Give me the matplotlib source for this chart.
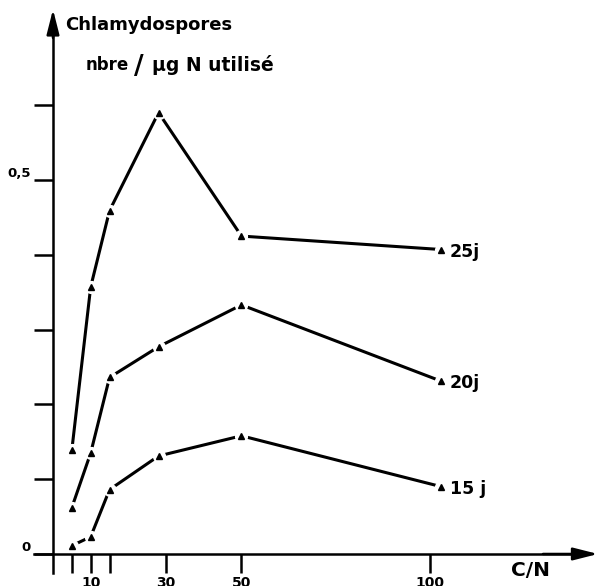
import matplotlib.pyplot as plt

# C/N ratio of the medium, and chlamydospores per ug N used, after 15, 20 and 25 days
cn = [5, 10, 15, 28, 50, 103]
j15 = [0.011, 0.023, 0.086, 0.131, 0.158, 0.090]
j20 = [0.062, 0.135, 0.236, 0.277, 0.333, 0.231]
j25 = [0.139, 0.357, 0.459, 0.590, 0.425, 0.407]
series = [("15 j", j15), ("20j", j20), ("25j", j25)]

xticks = [5, 10, 15, 30, 50, 100]
xlabels = ["", "10", "", "30", "50", "100"]
yticks = [0, 0.1, 0.2, 0.3, 0.4, 0.5, 0.6]
ylabels = ["0", "", "", "", "", "0,5", ""]

plt.rcParams['font.family'] = ['DejaVu Sans']
plt.rcParams['font.weight'] = 'bold'

fig = plt.figure(figsize=(5.98, 5.86), dpi=100)
ax = fig.add_axes([0, 0, 1, 1])
ax.set_xlim(-14.06, 144.6)
ax.set_ylim(-0.0428, 0.7406)

# axes drawn through the origin, hand-drawn style
for side in ['top', 'right']:
    ax.spines[side].set_visible(False)
ax.spines['left'].set_position(('data', 0))
ax.spines['bottom'].set_position(('data', 0))
ax.spines['left'].set_bounds(-0.025, 0.71)
ax.spines['bottom'].set_bounds(-5, 138)
for side in ['left', 'bottom']:
    ax.spines[side].set_linewidth(1.8)

ax.set_xticks(xticks)
ax.set_xticklabels(xlabels, fontsize=10, fontweight='bold')
ax.set_yticks(yticks)
ax.set_yticklabels(ylabels, fontsize=9.5, fontweight='bold')
ax.tick_params(axis='both', direction='out', length=14, width=1.8)
ax.tick_params(axis='x', pad=2)
ax.tick_params(axis='y', pad=2)
plt.setp(ax.get_yticklabels(), va='bottom')

# arrow heads on both axes
arrow = dict(arrowstyle='-|>,head_length=1.5,head_width=0.38', color='k',
             lw=1.8, mutation_scale=10, shrinkA=0, shrinkB=0)
ax.annotate('', xy=(144.6, 0), xytext=(130, 0), arrowprops=arrow)
ax.annotate('', xy=(0, 0.728), xytext=(0, 0.69), arrowprops=arrow)

for name, vals in series:
    ax.plot(cn, vals, color='k', lw=2.2, zorder=2, solid_capstyle='butt')
    ax.plot(cn, vals, 'o', color='white', ms=8.5, zorder=3)
    ax.plot(cn, vals, '^', color='k', ms=5, zorder=4)
    ax.annotate(name, xy=(cn[-1], vals[-1]), xytext=(6, 0),
                textcoords='offset points', va='center_baseline',
                fontsize=12.5, fontweight='bold')

ax.text(0.1087, 0.957, "Chlamydospores", transform=ax.transAxes,
        va='center', fontsize=13, fontweight='bold')
ax.text(0.1438, 0.889, "nbre", transform=ax.transAxes,
        va='center', fontsize=12, fontweight='bold')
ax.text(0.2316, 0.886, "/", transform=ax.transAxes, ha='center',
        va='center', fontsize=19, fontweight='bold')
ax.text(0.254, 0.889, "µg N utilisé", transform=ax.transAxes,
        va='center', fontsize=13.5, fontweight='bold')
ax.text(0.855, 0.026, "C/N", transform=ax.transAxes,
        va='center', fontsize=14.5, fontweight='bold')

fig.savefig("out.png", dpi=100)
